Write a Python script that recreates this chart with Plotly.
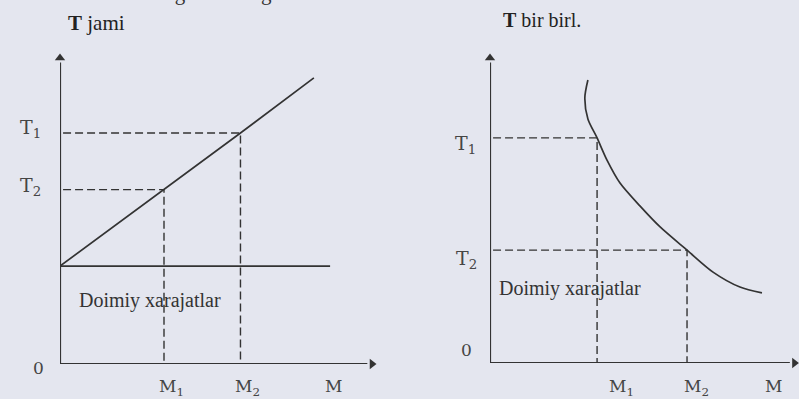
import plotly.graph_objects as go

W, H = 799, 399
BG = "#e4e6ef"
INK = "#333333"
LABEL = "#454545"
SERIF = "Liberation Serif, Times New Roman, serif"
SLAB = "DejaVu Serif, serif"

# Left panel: total costs (T jami) against output M
left_M = [0.0, 3.4, 5.9, 8.3]
left_T = [3.2, 5.7, 7.55, 9.35]
left_fixed = 3.2
left_fixed_end = 8.83
left_M1, left_M2 = 3.4, 5.9
left_T2, left_T1 = 5.7, 7.55
left_x_max, left_y_max = 10.2, 10

# Right panel: average cost per unit (T bir birl.) against output M
right_M = [3.20, 3.10, 3.20, 3.50, 3.82, 4.25, 4.90, 5.56, 6.44, 7.29, 8.17, 8.89]
right_T = [9.28, 8.70, 8.00, 7.38, 6.66, 5.90, 5.15, 4.46, 3.70, 2.98, 2.49, 2.30]
right_M1, right_M2 = 3.50, 6.44
right_T1, right_T2 = 7.38, 3.70
right_x_max, right_y_max = 10.1, 10
right_x_arrow = 9.95

axis_titles = ["jami", "bir birl."]
fixed_label = "Doimiy xarajatlar"

fig = go.Figure()


def px_x(p):
    return p / W


def px_y(p):
    return 1 - p / H


dash = "8px,4px"
solid = dict(color=INK, width=1.7)
dashed = dict(color=INK, width=1.4, dash=dash)
axis_line = dict(color=INK, width=2.2)


def axes_with_arrows(xa, ya, xend, ymax):
    # vertical and horizontal axis from the origin, each ending in an arrowhead
    fig.add_trace(go.Scatter(x=[0, 0], y=[0, ymax * 0.985], mode="lines", line=axis_line,
                             xaxis=xa, yaxis=ya, cliponaxis=False))
    fig.add_trace(go.Scatter(x=[0, xend * 0.985], y=[0, 0], mode="lines", line=axis_line,
                             xaxis=xa, yaxis=ya, cliponaxis=False))
    fig.add_trace(go.Scatter(x=[0], y=[ymax], mode="markers", xaxis=xa, yaxis=ya,
                             cliponaxis=False,
                             marker=dict(symbol="triangle-up", size=9, color=INK,
                                         line=dict(width=0))))
    fig.add_trace(go.Scatter(x=[xend], y=[0], mode="markers", xaxis=xa, yaxis=ya,
                             cliponaxis=False,
                             marker=dict(symbol="triangle-right", size=9, color=INK,
                                         line=dict(width=0))))


# --- left panel traces (xaxis / yaxis)
axes_with_arrows("x", "y", left_x_max, left_y_max)
fig.add_trace(go.Scatter(x=left_M, y=left_T, mode="lines", line=solid, xaxis="x", yaxis="y"))
fig.add_trace(go.Scatter(x=[0, left_fixed_end], y=[left_fixed, left_fixed], mode="lines",
                         line=solid, xaxis="x", yaxis="y"))
fig.add_trace(go.Scatter(x=[0.1, left_M1, left_M1], y=[left_T2, left_T2, 0], mode="lines",
                         line=dashed, xaxis="x", yaxis="y"))
fig.add_trace(go.Scatter(x=[0.1, left_M2, left_M2], y=[left_T1, left_T1, 0], mode="lines",
                         line=dashed, xaxis="x", yaxis="y"))

# --- right panel traces (xaxis2 / yaxis2)
axes_with_arrows("x2", "y2", right_x_arrow, right_y_max)
fig.add_trace(go.Scatter(x=right_M, y=right_T, mode="lines",
                         line=dict(color=INK, width=1.7, shape="spline", smoothing=0.8),
                         xaxis="x2", yaxis="y2"))
fig.add_trace(go.Scatter(x=[0.1, right_M1, right_M1], y=[right_T1, right_T1, 0], mode="lines",
                         line=dashed, xaxis="x2", yaxis="y2"))
fig.add_trace(go.Scatter(x=[0.1, right_M2, right_M2], y=[right_T2, right_T2, 0], mode="lines",
                         line=dashed, xaxis="x2", yaxis="y2"))

hidden = dict(visible=False, fixedrange=True)
fig.update_layout(
    width=W, height=H,
    margin=dict(l=0, r=0, t=0, b=0),
    paper_bgcolor=BG, plot_bgcolor=BG,
    showlegend=False,
    xaxis=dict(domain=[px_x(60), px_x(372)], range=[0, left_x_max], **hidden),
    yaxis=dict(domain=[px_y(364), px_y(58)], range=[0, left_y_max], **hidden),
    xaxis2=dict(domain=[px_x(490), 1.0], range=[0, right_x_max], **hidden),
    yaxis2=dict(domain=[px_y(363), px_y(58)], range=[0, right_y_max], **hidden),
)

annotations = []


def label(px, py, text, size=19, color=LABEL, family=SLAB, xanchor="center"):
    annotations.append(dict(x=px_x(px), y=px_y(py), xref="paper", yref="paper", text=text,
                            showarrow=False, xanchor=xanchor, yanchor="middle",
                            font=dict(family=family, size=size, color=color)))


def sub(s, n):
    return f"{s}<sub>{n}</sub>"


# left panel labels
label(30, 128, sub("T", 1))
label(30, 186, sub("T", 2))
label(38, 368, "0", size=17)
label(171, 387, sub("M", 1), size=17)
label(247, 387, sub("M", 2), size=17)
label(333, 386, "M", size=17)
label(77, 300, fixed_label, size=20, color=INK, family=SERIF, xanchor="left")

# right panel labels
label(465, 144, sub("T", 1))
label(466, 259, sub("T", 2))
label(466, 350, "0", size=17)
label(621, 387, sub("M", 1), size=17)
label(696, 387, sub("M", 2), size=17)
label(773, 386, "M", size=17)
label(497, 288, fixed_label, size=20, color=INK, family=SERIF, xanchor="left")

# panel titles
label(66, 23, f"<b>T</b> {axis_titles[0]}", size=21, color="#222", family=SERIF, xanchor="left")
label(501, 20, f"<b>T</b> {axis_titles[1]}", size=20, color="#222", family=SERIF, xanchor="left")

# running text of the page above the figure
annotations.append(dict(x=px_x(38), y=1, xref="paper", yref="paper", showarrow=False,
                        xanchor="left", yanchor="bottom", yshift=-7,
                        text="temada 30-rasmga asosan g",
                        font=dict(family=SERIF, size=21, color=INK)))

fig.update_layout(annotations=annotations)
fig.write_html("out.html")
